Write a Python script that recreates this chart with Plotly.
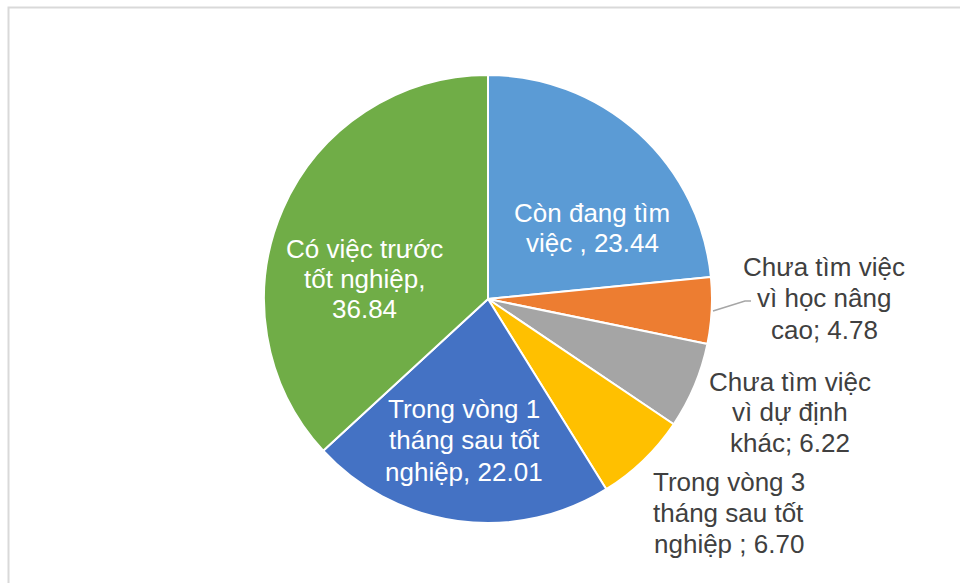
import plotly.graph_objects as go

# Graduate employment status (percent)
categories = [
    "Còn đang tìm việc",
    "Chưa tìm việc vì học nâng cao",
    "Chưa tìm việc vì dự định khác",
    "Trong vòng 3 tháng sau tốt nghiệp",
    "Trong vòng 1 tháng sau tốt nghiệp",
    "Có việc trước tốt nghiệp",
]
values = [23.44, 4.78, 6.22, 6.70, 22.01, 36.84]
colors = ["#5B9BD5", "#ED7D31", "#A5A5A5", "#FFC000", "#4472C4", "#70AD47"]

# Wrapped label lines for each slice; the value is filled in from `values`
label_lines = [
    ["Còn đang tìm", "việc , {v:.2f}"],
    ["Chưa tìm việc", "vì học nâng", "cao; {v:.2f}"],
    ["Chưa tìm việc", "vì dự định", "khác; {v:.2f}"],
    ["Trong vòng 3", "tháng sau tốt", "nghiệp ; {v:.2f}"],
    ["Trong vòng 1", "tháng sau tốt", "nghiệp, {v:.2f}"],
    ["Có việc trước", "tốt nghiệp,", "{v:.2f}"],
]
label_colors = ["white", "#404040", "#404040", "#404040", "white", "white"]
# label anchor in pixels: centre x, first baseline y, line step
label_pos = [
    (592, 222, 30),
    (824, 276, 31.5),
    (790, 391, 30.5),
    (728.5, 491, 31),
    (464, 418, 31.5),
    (364, 258, 30),
]
FONT_SIZE = 26

W, H = 960, 583
cx, cy, r = 488, 299, 224

fig = go.Figure(
    go.Pie(
        labels=categories,
        values=values,
        marker=dict(colors=colors, line=dict(color="white", width=2)),
        sort=False,
        direction="clockwise",
        rotation=0,
        textinfo="none",
        hoverinfo="label+value",
        showlegend=False,
        domain=dict(
            x=[(cx - r) / W, (cx + r) / W],
            y=[1 - (cy + r) / H, 1 - (cy - r) / H],
        ),
    )
)

annotations = []
for lines, v, c, (px, base, step) in zip(label_lines, values, label_colors, label_pos):
    for i, line in enumerate(lines):
        mid = base + i * step - 0.3465 * FONT_SIZE
        annotations.append(
            dict(
                text=line.format(v=v),
                x=px / W,
                y=1 - mid / H,
                xref="paper",
                yref="paper",
                xanchor="center",
                yanchor="middle",
                showarrow=False,
                borderpad=0,
                font=dict(
                    family="Liberation Sans, Arial, sans-serif",
                    size=FONT_SIZE,
                    color=c,
                ),
            )
        )

shapes = [
    # leader line for the small orange slice
    dict(
        type="path",
        path="M {:.4f},{:.4f} L {:.4f},{:.4f} L {:.4f},{:.4f}".format(
            713 / W, 1 - 311 / H, 745 / W, 1 - 301 / H, 751 / W, 1 - 301 / H
        ),
        xref="paper",
        yref="paper",
        line=dict(color="#A6A6A6", width=1.5),
    ),
    # chart area frame
    dict(
        type="rect",
        xref="paper",
        yref="paper",
        x0=8.5 / W,
        y0=-0.02,
        x1=1.02,
        y1=1 - 7.5 / H,
        line=dict(color="#D9D9D9", width=2),
        fillcolor="rgba(0,0,0,0)",
    ),
]

fig.update_layout(
    width=W,
    height=H,
    margin=dict(l=0, r=0, t=0, b=0),
    paper_bgcolor="white",
    plot_bgcolor="white",
    annotations=annotations,
    shapes=shapes,
)

fig.write_html("out.html")
